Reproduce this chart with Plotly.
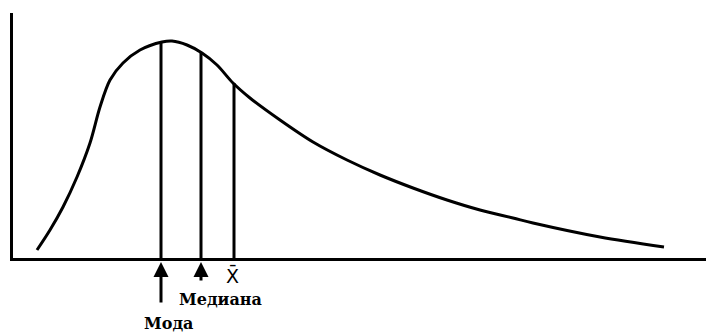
import plotly.graph_objs as go

# skewed distribution curve (arbitrary units)
curve_x = [24, 37, 50, 64, 77, 87, 97, 110, 127, 149, 159, 174, 189, 204, 220, 237,
           267, 300, 334, 367, 400, 434, 467, 500, 520, 587, 651]
curve_y = [8, 28, 51, 81, 115, 151, 178, 195, 208, 216, 217, 213, 205, 193, 175, 160,
           138, 116, 98, 83, 70, 58, 48, 40, 35, 21, 11]

# mode, median, mean
stat_names = ['Мода', 'Медиана', 'X̄']
stat_x = [148, 188, 221]
stat_h = [216, 205, 175]

PLOT_H = 245  # plot area height in px, used to place labels under the axis

curve = go.Scatter(
    x=curve_x,
    y=curve_y,
    mode='lines',
    line=dict(color='black', width=3, shape='spline', smoothing=0.9),
    hoverinfo='skip')

vx, vy = [], []
for sx, sh in zip(stat_x, stat_h):
    vx += [sx, sx, None]
    vy += [0, sh, None]

verticals = go.Scatter(
    x=vx,
    y=vy,
    mode='lines',
    line=dict(color='black', width=3),
    hoverinfo='skip')


def below(px):
    # pixels below the x axis -> paper coordinate
    return -px / PLOT_H


annotations = [
    # arrow for mode (long) and median (short)
    dict(x=stat_x[0], y=below(4), xref='x', yref='paper', text='', showarrow=True,
         ax=0, ay=42, arrowhead=2, arrowsize=1.0, arrowwidth=3, arrowcolor='black'),
    dict(x=stat_x[1], y=below(4), xref='x', yref='paper', text='', showarrow=True,
         ax=0, ay=20, arrowhead=2, arrowsize=1.0, arrowwidth=3, arrowcolor='black'),
    dict(x=stat_x[2] - 2, y=below(17), xref='x', yref='paper', yanchor='middle',
         text=stat_names[2], showarrow=False,
         font=dict(family='DejaVu Sans', size=19, color='black')),
    dict(x=stat_x[1] + 19, y=below(41), xref='x', yref='paper', yanchor='middle',
         text='<b>' + stat_names[1] + '</b>', showarrow=False,
         font=dict(family='DejaVu Serif', size=16, color='black')),
    dict(x=stat_x[0] + 7, y=below(65), xref='x', yref='paper', yanchor='middle',
         text='<b>' + stat_names[0] + '</b>', showarrow=False,
         font=dict(family='DejaVu Serif', size=16, color='black')),
]

layout = go.Layout(
    width=706,
    height=326,
    margin=dict(l=5, r=2, t=5, b=76),
    paper_bgcolor='white',
    plot_bgcolor='white',
    showlegend=False,
    xaxis=dict(range=[0, 699], showgrid=False, zeroline=False, showticklabels=False,
               ticks='', showline=True, linecolor='black', linewidth=3),
    yaxis=dict(range=[0, 245], showgrid=False, zeroline=False, showticklabels=False,
               ticks='', showline=True, linecolor='black', linewidth=3),
    annotations=annotations)

fig = go.Figure(data=[curve, verticals], layout=layout)
fig.write_html('out.html')
